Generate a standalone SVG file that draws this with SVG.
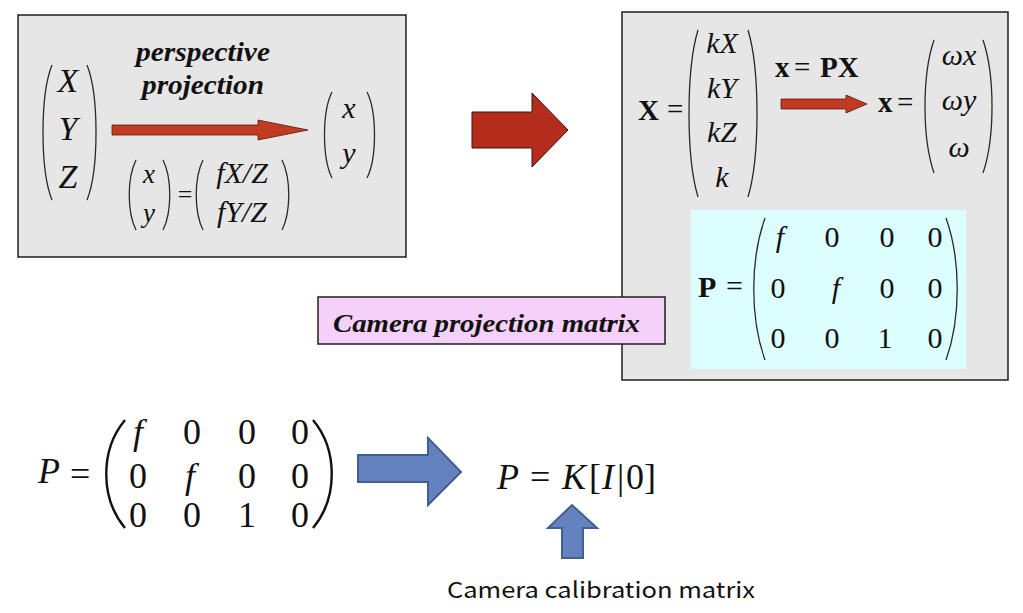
<svg xmlns="http://www.w3.org/2000/svg" width="1023" height="613" viewBox="0 0 1023 613">
<style>
.box{fill:#e6e6e6;stroke:#1e1e1e;stroke-width:1.5}
.m{font-family:"Liberation Serif",serif;font-style:italic;fill:#111}
.r{font-family:"Liberation Serif",serif;fill:#111}
.b{font-family:"Liberation Serif",serif;font-weight:bold;fill:#111}
.bi{font-family:"Liberation Serif",serif;font-weight:bold;font-style:italic;fill:#111}
.par{fill:none;stroke:#2a2a2a;stroke-width:1.3}
.bpar{fill:none;stroke:#111;stroke-width:2.4}
.red{fill:#b32c1c;stroke:#3a1410;stroke-width:1}
.blue{fill:#6382bf;stroke:#42608f;stroke-width:2}
</style>

<g id="perspective-box">
<rect class="box" x="18" y="15" width="388" height="242"/>
<path class="par" d="M52,65 C40,95 40,170 52,200"/>
<path class="par" d="M87,65 C99,95 99,170 87,200"/>
<text class="m" font-size="34" x="68" y="92" text-anchor="middle">X</text>
<text class="m" font-size="34" x="68" y="140" text-anchor="middle">Y</text>
<text class="m" font-size="34" x="68" y="188" text-anchor="middle">Z</text>
<text class="bi" font-size="28" x="203" y="61" text-anchor="middle" textLength="134" lengthAdjust="spacingAndGlyphs">perspective</text>
<text class="bi" font-size="28" x="203" y="94" text-anchor="middle" textLength="122" lengthAdjust="spacingAndGlyphs">projection</text>
<path d="M112,125 H258 V120 L308,130 L258,140 V135 H112 Z" fill="#c13a22" stroke="#5a1a10" stroke-width="0.8"/>
<path class="par" d="M332,92 C322,112 322,158 332,178"/>
<path class="par" d="M367,92 C377,112 377,158 367,178"/>
<text class="m" font-size="30" x="349" y="118" text-anchor="middle">x</text>
<text class="m" font-size="30" x="349" y="163" text-anchor="middle">y</text>
<path class="par" d="M136,160 C127,178 127,212 136,230"/>
<path class="par" d="M163,160 C172,178 172,212 163,230"/>
<text class="m" font-size="27" x="149" y="183" text-anchor="middle">x</text>
<text class="m" font-size="27" x="149" y="222" text-anchor="middle">y</text>
<text class="r" font-size="26" x="185" y="203" text-anchor="middle">=</text>
<path class="par" d="M203,160 C194,178 194,212 203,230"/>
<path class="par" d="M282,160 C291,178 291,212 282,230"/>
<text class="m" font-size="30" x="242" y="183" text-anchor="middle">fX/Z</text>
<text class="m" font-size="30" x="242" y="222" text-anchor="middle">fY/Z</text>
</g>

<g id="big-red-arrow">
<path class="red" d="M472,112 H532 V93 L568,130 L532,167 V148 H472 Z"/>
</g>

<g id="homogeneous-box">
<rect class="box" x="622" y="12" width="386" height="368"/>
<text class="b" font-size="29" x="638" y="120">X</text>
<text class="r" font-size="29" x="667" y="119">=</text>
<path class="par" d="M698,30 C686,70 686,157 698,197"/>
<path class="par" d="M748,30 C760,70 760,157 748,197"/>
<text class="m" font-size="30" x="722" y="53" text-anchor="middle">kX</text>
<text class="m" font-size="30" x="722" y="98" text-anchor="middle">kY</text>
<text class="m" font-size="30" x="722" y="142" text-anchor="middle">kZ</text>
<text class="m" font-size="30" x="722" y="187" text-anchor="middle">k</text>
<text class="b" font-size="29" x="775" y="77">x</text>
<text class="r" font-size="29" x="794" y="77">=</text>
<text class="b" font-size="29" x="820" y="77">PX</text>
<path d="M781,99 H846 V95 L867,104 L846,113 V109 H781 Z" fill="#c13a22" stroke="#5a1a10" stroke-width="0.8"/>
<text class="b" font-size="29" x="878" y="112">x</text>
<text class="r" font-size="29" x="897" y="112">=</text>
<path class="par" d="M934,40 C922,75 922,138 934,173"/>
<path class="par" d="M983,40 C995,75 995,138 983,173"/>
<text class="m" font-size="30" x="959" y="65" text-anchor="middle">ωx</text>
<text class="m" font-size="30" x="959" y="110" text-anchor="middle">ωy</text>
<text class="m" font-size="30" x="959" y="157" text-anchor="middle">ω</text>
</g>

<g id="p-matrix">
<rect x="691" y="210" width="275" height="159" fill="#dcfefe"/>
<text class="b" font-size="30" x="698" y="297">P</text>
<text class="r" font-size="30" x="726" y="296">=</text>
<path class="par" d="M765,218 C750,260 750,318 765,360"/>
<path class="par" d="M946,218 C961,260 961,318 946,360"/>
<g class="r" font-size="30" text-anchor="middle">
<text class="m" x="780" y="247">f</text><text x="832" y="247">0</text><text x="887" y="247">0</text><text x="935" y="247">0</text>
<text x="778" y="298">0</text><text class="m" x="836" y="298">f</text><text x="887" y="298">0</text><text x="935" y="298">0</text>
<text x="778" y="348">0</text><text x="832" y="348">0</text><text x="885" y="348">1</text><text x="935" y="348">0</text>
</g>
</g>

<g id="camera-projection-label">
<rect x="318" y="297" width="347" height="47" fill="#f5d0f8" stroke="#1e1e1e" stroke-width="1.5"/>
<text class="bi" font-size="25" x="333" y="332" textLength="307" lengthAdjust="spacingAndGlyphs">Camera projection matrix</text>
</g>

<g id="bottom-matrix">
<text class="m" font-size="36" x="38" y="483">P</text>
<text class="r" font-size="36" x="70" y="486">=</text>
<path class="bpar" d="M125,420 C100,450 100,498 125,528"/>
<path class="bpar" d="M313,420 C338,450 338,498 313,528"/>
<g class="r" font-size="36" text-anchor="middle">
<text class="m" x="138" y="444">f</text><text x="192" y="444">0</text><text x="247" y="444">0</text><text x="300" y="444">0</text>
<text x="138" y="488">0</text><text class="m" x="190" y="488">f</text><text x="247" y="488">0</text><text x="300" y="488">0</text>
<text x="138" y="527">0</text><text x="192" y="527">0</text><text x="247" y="527">1</text><text x="300" y="527">0</text>
</g>
</g>

<g id="blue-arrow">
<path class="blue" d="M358,455 H428 V438 L461,472 L428,505 V482 H358 Z"/>
</g>

<g id="pk-eq">
<text class="m" font-size="36" x="497" y="489">P</text>
<text class="r" font-size="36" x="530" y="489">=</text>
<text class="m" font-size="36" x="562" y="489">K</text>
<text class="r" font-size="36" x="589" y="489">[</text>
<text class="m" font-size="36" x="602" y="489">I</text>
<text class="r" font-size="36" x="617" y="489">|</text>
<text class="r" font-size="36" x="626" y="489">0]</text>
</g>

<g id="up-arrow">
<path class="blue" d="M562,558 V528 H548 L572,505 L597,528 H583 V558 Z"/>
</g>

<g id="calibration-label">
<text x="447" y="598" font-family="'Noto Sans CJK KR','Noto Sans',sans-serif" font-size="22" fill="#111" textLength="308" lengthAdjust="spacingAndGlyphs">Camera calibration matrix</text>
</g>
</svg>
